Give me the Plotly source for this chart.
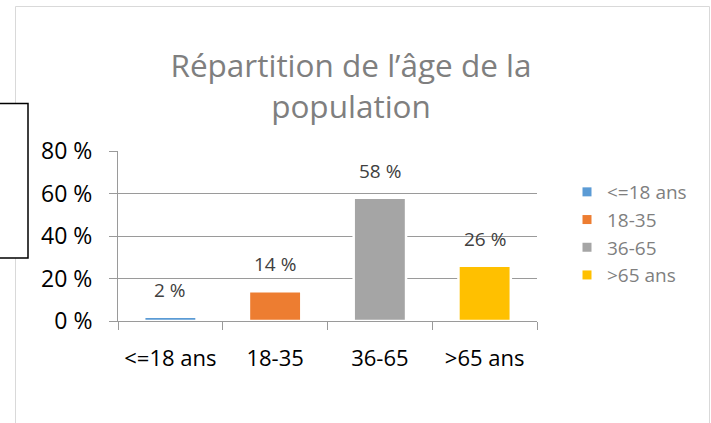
import plotly.graph_objects as go

# ---- data ----
categories = ["<=18 ans", "18-35", "36-65", ">65 ans"]
values = [2, 14, 58, 26]          # percent
colors = ["#5B9BD5", "#ED7D31", "#A5A5A5", "#FFC000"]
y_ticks = [0, 20, 40, 60, 80]
y_tick_labels = ["0 %", "20 %", "40 %", "60 %", "80 %"]
title_text = "Répartition de l’âge de la<br>population"

# ---- geometry helpers (pixel -> paper) ----
W, H = 711, 423
L, R, T, B = 118, 174, 151, 102
PW, PH = W - L - R, H - T - B


def xp(px):
    return (px - L) / PW


def yp(py):
    return (H - B - py) / PH


FONT = "Open Sans"
GRID = "#9a9a9a"

fig = go.Figure()

for cat, val, col in zip(categories, values, colors):
    fig.add_trace(go.Bar(
        x=[cat], y=[val], width=0.5,
        marker=dict(color=col, line=dict(color="white", width=2.5)),
        showlegend=False, hoverinfo="x+y",
    ))

# legend entries (square markers)
for cat, col in zip(categories, colors):
    fig.add_trace(go.Scatter(
        x=[None], y=[None], mode="markers", name=cat,
        marker=dict(symbol="square", size=9, color=col),
    ))

# data labels
for cat, val in zip(categories, values):
    fig.add_annotation(
        x=cat, y=val, text=f"{val} %", showarrow=False,
        yanchor="middle", yshift=27,
        font=dict(family=FONT, size=19, color="#404040"),
    )

fig.update_layout(
    width=W, height=H,
    margin=dict(l=L, r=R, t=T, b=B, autoexpand=False),
    paper_bgcolor="white", plot_bgcolor="white",
    barmode="overlay",
    font=dict(family=FONT),
    title=dict(
        text=title_text, x=351 / W, xanchor="center",
        y=1 - 77 / H, yanchor="top",
        font=dict(family=FONT, size=31.5, color="#7f7f7f"),
    ),
    legend=dict(
        x=xp(567), y=yp(173), xanchor="left", yanchor="top",
        font=dict(family=FONT, size=19, color="#7f7f7f"),
        bgcolor="rgba(0,0,0,0)", borderwidth=0,
    ),
    xaxis=dict(
        type="category", categoryorder="array", categoryarray=categories,
        range=[-0.5, 3.5], showline=True, linecolor=GRID, linewidth=1,
        ticks="outside", tickson="boundaries", ticklen=8, tickcolor=GRID,
        tickfont=dict(family=FONT, size=22, color="#000000"),
        ticklabelstandoff=18, showgrid=False, zeroline=False,
    ),
    yaxis=dict(
        range=[0, 80], tickmode="array", tickvals=y_ticks,
        ticktext=y_tick_labels,
        showline=True, linecolor=GRID, linewidth=1,
        ticks="outside", ticklen=8, tickcolor=GRID,
        gridcolor=GRID, gridwidth=1, zeroline=False,
        tickfont=dict(family=FONT, size=23, color="#000000"),
        ticklabelstandoff=12,
    ),
    shapes=[
        dict(type="rect", xref="paper", yref="paper",
             x0=xp(15.5), x1=xp(709.5), y0=yp(6.5), y1=yp(440),
             line=dict(color="#d9d9d9", width=1), layer="below"),
        dict(type="rect", xref="paper", yref="paper",
             x0=xp(-3), x1=xp(28), y0=yp(103.5), y1=yp(258),
             line=dict(color="#000000", width=1.5), fillcolor="white",
             layer="above"),
    ],
)

fig.write_html("out.html", config={"displayModeBar": False},
               post_script="document.body.style.margin='0';")
